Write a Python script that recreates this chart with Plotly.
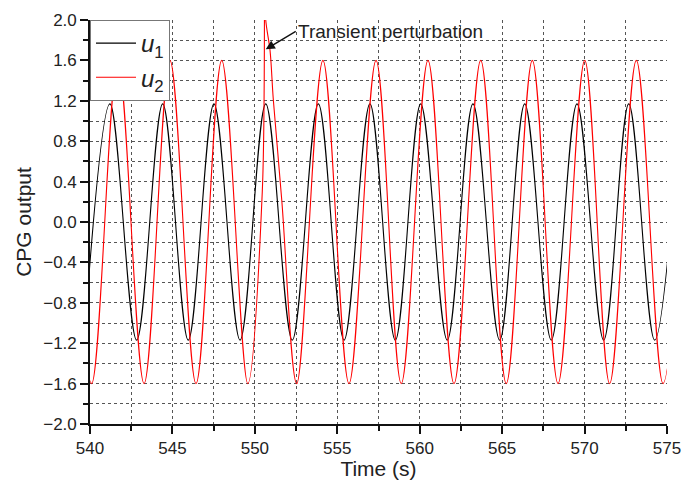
import plotly.graph_objects as go

# ---- data ----
# u1: times (s) of successive extrema and their values
u1_time = [539.64, 541.21, 542.83, 544.41, 545.96, 547.52, 549.10, 550.66,
           552.27, 553.85, 555.41, 556.98, 558.52, 560.06, 561.67, 563.23,
           564.85, 566.37, 567.98, 569.54, 571.16, 572.68, 574.25, 575.82]
u1_value = [-1.17, 1.17, -1.17, 1.17, -1.17, 1.17, -1.17, 1.17,
            -1.17, 1.17, -1.17, 1.17, -1.17, 1.17, -1.17, 1.17,
            -1.17, 1.17, -1.17, 1.17, -1.17, 1.17, -1.17, 1.17]

# u2: extrema plus the points of the transient perturbation near 550.6 s
u2_time = [538.53, 540.10, 541.69, 543.28, 544.85, 546.43, 547.99, 549.57,
           550.45, 550.60, 550.66, 550.92, 551.12, 551.63,
           552.54, 554.13, 555.71, 557.35, 558.88, 560.50, 562.08, 563.70,
           565.25, 566.83, 568.39, 570.01, 571.52, 573.14, 574.76, 576.33]
u2_value = [1.6, -1.6, 1.6, -1.6, 1.6, -1.6, 1.6, -1.6,
            0.30, 2.40, 2.00, 1.70, 1.21, 0.22,
            -1.6, 1.6, -1.6, 1.6, -1.6, 1.6, -1.6, 1.6,
            -1.6, 1.6, -1.6, 1.6, -1.6, 1.6, -1.6, 1.6]

perturb_time = 550.66
perturb_value = 1.71
perturb_label = "Transient perturbation"

x_range = [540, 575]
y_range = [-2.0, 2.0]

FONT = "Liberation Sans, Arial, sans-serif"
TXT = "#222222"
GRID = "#555555"

fig = go.Figure()
fig.add_trace(go.Scatter(x=u1_time, y=u1_value, mode="lines",
                         name="<i>u</i><sub>1</sub>",
                         line=dict(color="#000000", width=1.1, shape="spline", smoothing=1.0)))
fig.add_trace(go.Scatter(x=u2_time, y=u2_value, mode="lines",
                         name="<i>u</i><sub>2</sub>",
                         line=dict(color="#ff0000", width=1.1, shape="spline", smoothing=1.0)))

# annotation text with arrow starting at its left-middle
fig.add_annotation(x=perturb_time, y=perturb_value, xref="x", yref="y",
                   text=perturb_label, showarrow=True, ax=30, ay=-18,
                   xanchor="left", yanchor="middle",
                   arrowhead=2, arrowsize=1.3, arrowwidth=1.4, arrowcolor="#111111",
                   font=dict(family=FONT, size=19, color=TXT))

axis_common = dict(showline=True, linecolor="#111111", linewidth=1.6,
                   zeroline=False, mirror=False, automargin=False)

fig.update_layout(
    width=697, height=480,
    margin=dict(l=90, r=30, t=20, b=56),
    paper_bgcolor="white", plot_bgcolor="white",
    font=dict(family=FONT, color=TXT),
    showlegend=True,
    legend=dict(x=0, y=1, xanchor="left", yanchor="top",
                bgcolor="white", bordercolor="#777777", borderwidth=1,
                font=dict(family=FONT, size=24, color=TXT),
                itemwidth=40, tracegroupgap=0),
    xaxis=dict(range=x_range, dtick=5, tick0=540, ticks="outside", ticklen=8, tickwidth=1.5,
               tickcolor="#111111", tickfont=dict(size=17, color=TXT),
               showgrid=True, gridcolor=GRID, griddash="dot", gridwidth=1,
               minor=dict(dtick=2.5, ticks="outside", ticklen=5, tickwidth=1.5, tickcolor="#111111",
                          showgrid=True, gridcolor=GRID, griddash="dot", gridwidth=1),
               title=dict(text="Time (s)", font=dict(size=21, color=TXT), standoff=2),
               **axis_common),
    yaxis=dict(range=y_range, dtick=0.4, tick0=0, tickformat=".1f", ticks="outside", ticklen=8,
               tickwidth=1.5, tickcolor="#111111", tickfont=dict(size=17, color=TXT),
               showgrid=True, gridcolor=GRID, griddash="dot", gridwidth=1,
               minor=dict(dtick=0.2, ticks="outside", ticklen=5, tickwidth=1.5, tickcolor="#111111",
                          showgrid=True, gridcolor=GRID, griddash="dot", gridwidth=1),
               title=dict(text="CPG output", font=dict(size=21, color=TXT), standoff=6),
               **axis_common),
    xaxis2=dict(range=x_range, overlaying="x", side="top", dtick=5, tick0=540,
                ticks="inside", ticklen=8, tickwidth=1.5, tickcolor="#111111",
                showticklabels=False, showgrid=False,
                minor=dict(dtick=2.5, ticks="inside", ticklen=5, tickwidth=1.5, tickcolor="#111111"),
                **axis_common),
    yaxis2=dict(range=y_range, overlaying="y", side="right", dtick=0.4, tick0=0,
                ticks="inside", ticklen=8, tickwidth=1.5, tickcolor="#111111",
                showticklabels=False, showgrid=False,
                minor=dict(dtick=0.2, ticks="inside", ticklen=5, tickwidth=1.5, tickcolor="#111111"),
                **axis_common),
)

fig.write_html("out.html")
